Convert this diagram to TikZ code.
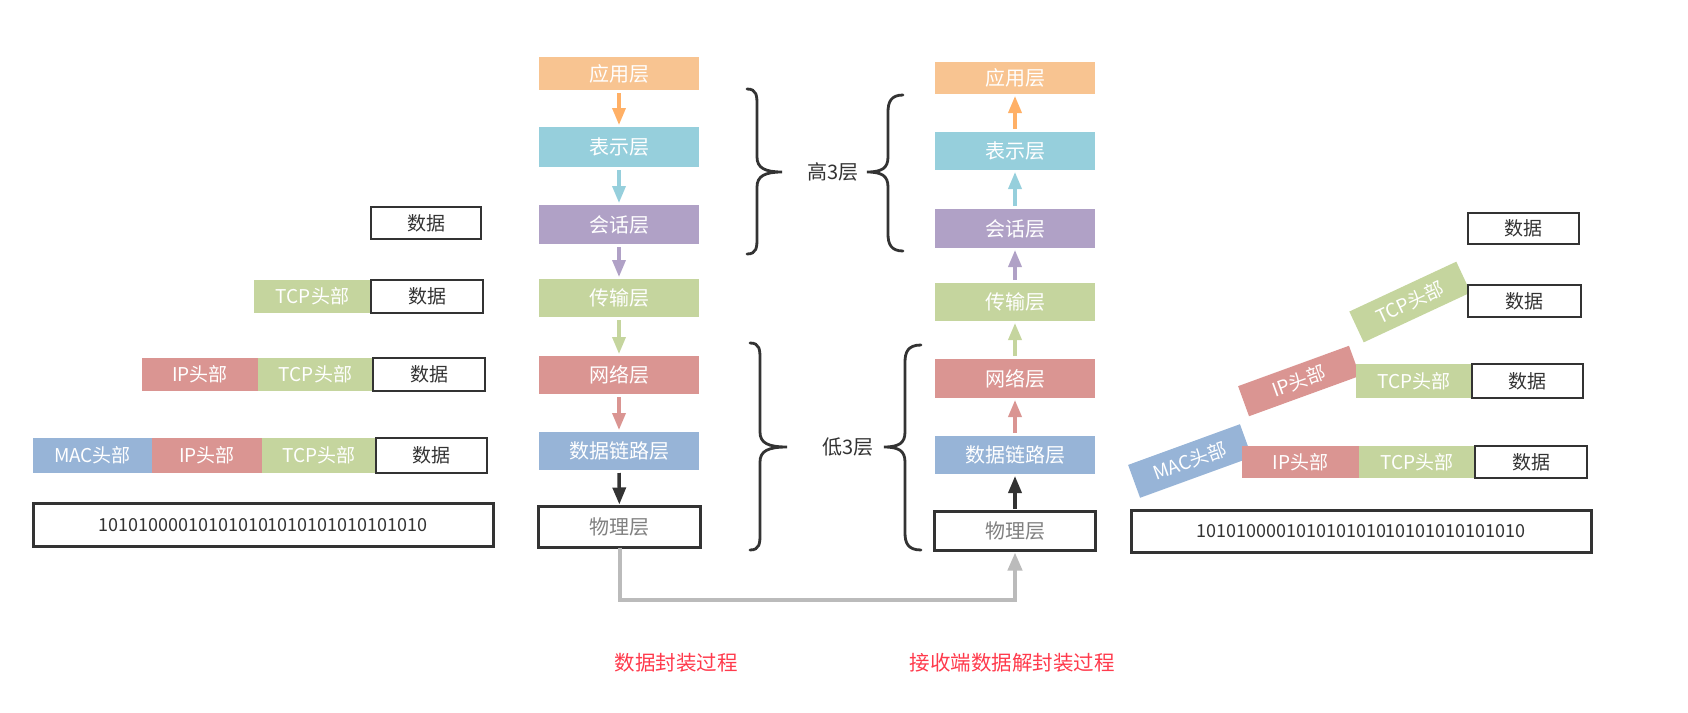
\documentclass[tikz,border=0pt]{standalone}
\usepackage{fontspec}
\setmainfont{Noto Sans CJK SC}
\usetikzlibrary{arrows.meta}
\definecolor{cApp}{HTML}{F8C491}
\definecolor{cAppA}{HTML}{FFB066}
\definecolor{cPre}{HTML}{96CFDC}
\definecolor{cSes}{HTML}{B0A1C6}
\definecolor{cTra}{HTML}{C5D59E}
\definecolor{cNet}{HTML}{DA9592}
\definecolor{cLnk}{HTML}{97B4D7}
\definecolor{cDark}{HTML}{333333}
\definecolor{cGrey}{HTML}{BBBBBB}
\definecolor{cRed}{HTML}{FF3A4C}
\tikzset{
  layer/.style={inner sep=0pt, outer sep=0pt, minimum width=160pt, text=white, font=\fontsize{20}{20}\selectfont},
  phys/.style={inner sep=0pt, outer sep=0pt, draw=cDark, line width=3pt, fill=white, text=black!50, font=\fontsize{20}{20}\selectfont},
  flow/.style={line width=3.5pt, -{Triangle[width=13pt,length=17pt]}, shorten <=3pt, shorten >=2pt},
  hdr/.style={inner sep=0pt, outer sep=0pt, minimum height=33pt, text=white, font=\fontsize{19}{19}\selectfont},
  dat/.style={inner sep=0pt, outer sep=0pt, minimum height=33pt, minimum width=111pt, draw=cDark, line width=1.5pt, fill=white, text=cDark, font=\fontsize{19}{19}\selectfont},
  bits/.style={inner sep=0pt, outer sep=0pt, minimum width=460pt, minimum height=43pt, draw=cDark, line width=3pt, text=cDark, font=\fontsize{18}{18}\selectfont},
  brace/.style={line width=2.8pt, draw=cDark, line cap=round},
  lbl/.style={text=cDark, font=\fontsize{20}{20}\selectfont},
  captxt/.style={text=cRed, font=\fontsize{20.5}{20.5}\selectfont}
}
\begin{document}
\begin{tikzpicture}[x=1pt,y=-1pt]
\useasboundingbox (0,0) rectangle (1688,712);
% left stack
\node[layer, fill=cApp, minimum height=33pt] (L1) at (619,73.5) {应用层};
\node[layer, fill=cPre, minimum height=40pt] (L2) at (619,147) {表示层};
\node[layer, fill=cSes, minimum height=39pt] (L3) at (619,224.5) {会话层};
\node[layer, fill=cTra, minimum height=38pt] (L4) at (619,298) {传输层};
\node[layer, fill=cNet, minimum height=38pt] (L5) at (619,375) {网络层};
\node[layer, fill=cLnk, minimum height=38pt] (L6) at (619,451) {数据链路层};
\node[phys, minimum width=162pt, minimum height=41pt] (L7) at (619.5,527) {物理层};
\draw[flow, cAppA] (L1) -- (L2);
\draw[flow, cPre] (L2) -- (L3);
\draw[flow, cSes] (L3) -- (L4);
\draw[flow, cTra] (L4) -- (L5);
\draw[flow, cNet] (L5) -- (L6);
\draw[flow, cDark] (L6) -- (L7);
% right stack
\node[layer, fill=cApp, minimum height=32pt] (R1) at (1015,78) {应用层};
\node[layer, fill=cPre, minimum height=38pt] (R2) at (1015,151) {表示层};
\node[layer, fill=cSes, minimum height=39pt] (R3) at (1015,228.5) {会话层};
\node[layer, fill=cTra, minimum height=38pt] (R4) at (1015,302) {传输层};
\node[layer, fill=cNet, minimum height=39pt] (R5) at (1015,378.5) {网络层};
\node[layer, fill=cLnk, minimum height=38pt] (R6) at (1015,455) {数据链路层};
\node[phys, minimum width=161pt, minimum height=39pt] (R7) at (1015,531) {物理层};
\draw[flow, cAppA] (R2) -- (R1);
\draw[flow, cPre] (R3) -- (R2);
\draw[flow, cSes] (R4) -- (R3);
\draw[flow, cTra] (R5) -- (R4);
\draw[flow, cNet] (R6) -- (R5);
\draw[flow, cDark] (R7) -- (R6);
% physical transfer
\coordinate (g1) at (619.5,600);
\coordinate (g2) at (1015,600);
\draw[line width=4pt, cGrey, -{Triangle[width=14pt,length=18pt]}, shorten >=2pt] (L7.south) -- (g1) -- (g2) -- (R7.south);
% braces
\draw[brace] (747,89) .. controls (757,89) and (757,96) .. (757,106) -- (757,157) .. controls (757,168) and (765,172) .. (782,172) .. controls (765,172) and (757,176) .. (757,187) -- (757,237) .. controls (757,247) and (757,254) .. (747,254);
\draw[brace] (903,95) .. controls (891,95) and (888,102) .. (888,112) -- (888,157) .. controls (888,168) and (882,172) .. (867,172) .. controls (882,172) and (888,176) .. (888,187) -- (888,234) .. controls (888,244) and (891,251) .. (903,251);
\draw[brace] (750,343) .. controls (760,343) and (760,350) .. (760,360) -- (760,432) .. controls (760,443) and (768,447) .. (787,447) .. controls (768,447) and (760,451) .. (760,462) -- (760,533) .. controls (760,543) and (760,550) .. (750,550);
\draw[brace] (921,345) .. controls (908,345) and (905,352) .. (905,362) -- (905,432) .. controls (905,443) and (899,447) .. (884,447) .. controls (899,447) and (905,451) .. (905,462) -- (905,533) .. controls (905,543) and (908,550) .. (921,550);
\node[lbl] (hi) at (833,172) {高3层};
\node[lbl] (lo) at (848,447) {低3层};
% left packets
\node[dat, minimum height=32pt, minimum width=110pt] (a1) at (426,223) {数据};
\node[hdr, fill=cTra, minimum width=117pt] (b1) at (312.5,296.5) {TCP头部};
\node[dat, minimum width=112pt] (b2) at (427,296.5) {数据};
\node[hdr, fill=cNet, minimum width=116pt] (c1) at (200,374.5) {IP头部};
\node[hdr, fill=cTra, minimum width=115pt] (c2) at (315.5,374.5) {TCP头部};
\node[dat, minimum width=112pt] (c3) at (429,374.5) {数据};
\node[hdr, fill=cLnk, minimum width=119pt, minimum height=35pt] (d1) at (92.5,455.5) {MAC头部};
\node[hdr, fill=cNet, minimum width=110pt, minimum height=35pt] (d2) at (207,455.5) {IP头部};
\node[hdr, fill=cTra, minimum width=114pt, minimum height=35pt] (d3) at (319,455.5) {TCP头部};
\node[dat, minimum width=111pt, minimum height=35pt] (d4) at (431.5,455.5) {数据};
\node[bits] (e1) at (263,525) {101010000101010101010101010101010};
% right packets
\node[dat, minimum height=31pt] (ra1) at (1523.5,228.5) {数据};
\node[hdr, fill=cTra, minimum width=118pt, minimum height=34pt, rotate=25] (rb1) at (1410,302) {TCP头部};
\node[dat, minimum width=113pt, minimum height=32pt] (rb2) at (1524.5,301) {数据};
\node[hdr, fill=cNet, minimum width=118pt, minimum height=32pt, rotate=20] (rc1) at (1299,381) {IP头部};
\node[hdr, fill=cTra, minimum width=116pt, minimum height=34pt] (rc2) at (1414,381) {TCP头部};
\node[dat, minimum width=111pt, minimum height=34pt] (rc3) at (1527.5,381) {数据};
\node[hdr, fill=cLnk, minimum width=119pt, minimum height=35pt, rotate=20] (rd1) at (1190,461) {MAC头部};
\node[hdr, fill=cNet, minimum width=117pt, minimum height=32pt] (rd2) at (1300.5,462) {IP头部};
\node[hdr, fill=cTra, minimum width=116pt, minimum height=32pt] (rd3) at (1417,462) {TCP头部};
\node[dat, minimum width=112pt, minimum height=32pt] (rd4) at (1531,462) {数据};
\node[bits, minimum height=42pt] (re1) at (1361,531) {101010000101010101010101010101010};
% captions
\node[captxt] (cp1) at (676,663) {数据封装过程};
\node[captxt] (cp2) at (1012,663) {接收端数据解封装过程};
\end{tikzpicture}
\end{document}
